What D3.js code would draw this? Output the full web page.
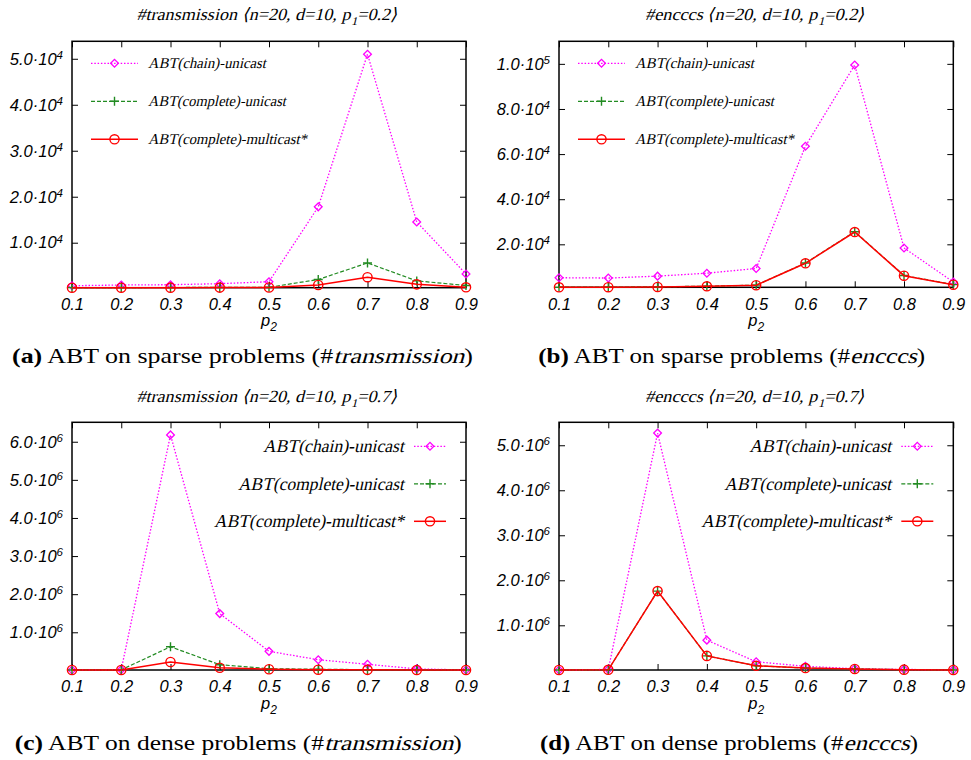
<!DOCTYPE html>
<html>
<head>
<meta charset="utf-8">
<script src="https://cdn.jsdelivr.net/npm/d3@7"></script>
<style>
body { margin: 0; background: #fff; }
</style>
</head>
<body>
<div id="chart"></div>
<script>
// x values shared by all panels
var p2 = [0.1, 0.2, 0.3, 0.4, 0.5, 0.6, 0.7, 0.8, 0.9];
var seriesNames = ["ABT(chain)-unicast", "ABT(complete)-unicast", "ABT(complete)-multicast*"];

// (a) sparse, #transmission
var aChain = [650, 800, 870, 1090, 1520, 17800, 51000, 14500, 3200];
var aCompUni = [250, 250, 260, 280, 300, 2000, 5600, 1700, 700];
var aMulti = [220, 220, 230, 240, 260, 800, 2500, 950, 300];
var aTicks = [1e4, 2e4, 3e4, 4e4, 5e4];
var aDomain = [217, 53800];

// (b) sparse, #encccs
var bChain = [5200, 5050, 5900, 7200, 9300, 63500, 99500, 18400, 3300];
var bCompUni = [1000, 1050, 1150, 1450, 1900, 11700, 25600, 6200, 2150];
var bMulti = [950, 1000, 1100, 1400, 1850, 11600, 25450, 6100, 2100];
var bTicks = [2e4, 4e4, 6e4, 8e4, 1e5];
var bDomain = [950, 110000];

// (c) dense, #transmission
var cChain = [10500, 20000, 6180000, 1490000, 500000, 280000, 160000, 40000, 12000];
var cCompUni = [10500, 15000, 620000, 150000, 45000, 30000, 20000, 15000, 10500];
var cMulti = [10500, 12000, 220000, 70000, 30000, 18000, 15000, 12000, 10500];
var cTicks = [1e6, 2e6, 3e6, 4e6, 5e6, 6e6];
var cDomain = [10500, 6510000];

// (d) dense, #encccs
var dChain = [7000, 20000, 5270000, 670000, 190000, 90000, 35000, 20000, 10000];
var dCompUni = [7000, 12000, 1760000, 320000, 100000, 50000, 30000, 15000, 8000];
var dMulti = [7000, 12000, 1760000, 320000, 100000, 50000, 30000, 15000, 8000];
var dTicks = [1e6, 2e6, 3e6, 4e6, 5e6];
var dDomain = [7000, 5510000];

var titleNames = ["#transmission", "#encccs", "#transmission", "#encccs"];
var titleP1 = ["0.2", "0.2", "0.7", "0.7"];
var captionLetters = ["(a)", "(b)", "(c)", "(d)"];
var captionKinds = ["sparse", "sparse", "dense", "dense"];
var captionMetrics = ["transmission", "encccs", "transmission", "encccs"];

var width = 971,
    height = 760;

var svg = d3.select("#chart").append("svg")
    .attr("width", width)
    .attr("height", height);

var colors = ["#ff00ff", "#228b22", "#ff0000"];
var dashes = ["1.5,1.8", "4,2", null];
var lineWidths = [1.3, 1.2, 1.5];
var serif = "'Liberation Serif', 'Times New Roman', serif";
var sans = "'Liberation Sans', Arial, sans-serif";

var panels = [
    {series: [aChain, aCompUni, aMulti], ticks: aTicks, domain: aDomain,
     box: [72, 41.3, 466, 287.7], legend: "left", legendSize: 15, legendW: [118, 138, 159],
     titleX: 267, titleY: 20, titleW: 261, capX: 242.5, capY: 363, capW: 461},
    {series: [bChain, bCompUni, bMulti], ticks: bTicks, domain: bDomain,
     box: [559, 41.3, 953.3, 287.3], legend: "left", legendSize: 15, legendW: [119, 139, 159],
     titleX: 755, titleY: 20, titleW: 220, capX: 731.7, capY: 363, capW: 387},
    {series: [cChain, cCompUni, cMulti], ticks: cTicks, domain: cDomain,
     box: [72, 422.3, 466, 670], legend: "right", legendSize: 18, legendW: [141, 166, 190],
     titleX: 267, titleY: 402, titleW: 261, capX: 238.3, capY: 750, capW: 447},
    {series: [dChain, dCompUni, dMulti], ticks: dTicks, domain: dDomain,
     box: [559, 422.3, 953.3, 670], legend: "right", legendSize: 18, legendW: [142, 167, 190],
     titleX: 755, titleY: 402, titleW: 220, capX: 729, capY: 750, capW: 378}
];

// text made of runs; italics are faked with a skew, whole run is fitted to a width
function richText(g, parts, x, y, anchor, size, targetW) {
    var runs = parts.map(function(p) {
        var fs = p.sub ? size * 0.7 : size;
        var t = g.append("text")
            .attr("x", 0).attr("y", 0)
            .style("font-family", serif)
            .style("font-size", fs + "px")
            .style("font-weight", p.bold ? "bold" : "normal")
            .style("white-space", "pre")
            .text(p.text);
        return {t: t, w: t.node().getComputedTextLength(), p: p};
    });
    var natural = d3.sum(runs, function(r) { return r.w; });
    var s = targetW ? targetW / natural : 1;
    var cx = anchor === "middle" ? x - natural * s / 2 : (anchor === "end" ? x - natural * s : x);
    runs.forEach(function(r) {
        var dy = r.p.sub ? size * 0.28 : 0;
        r.t.attr("transform", "translate(" + cx + "," + (y + dy) + ") scale(" + s + ",1)" +
            (r.p.italic ? " skewX(-13)" : ""));
        cx += r.w * s;
    });
}

function tickParts(v) {
    var e = Math.floor(Math.log10(v) + 1e-9);
    var m = v / Math.pow(10, e);
    return [m.toFixed(1) + "\u00b710", String(e)];
}

function marker(g, k, x, y) {
    if (k === 0) {
        g.append("path")
            .attr("d", d3.symbol(d3.symbolSquare, 30)())
            .attr("transform", "translate(" + x + "," + y + ") rotate(45)")
            .attr("fill", "none").attr("stroke", colors[0]).attr("stroke-width", 1.3);
    } else if (k === 1) {
        g.append("path")
            .attr("d", "M-4.5,0H4.5M0,-4.5V4.5")
            .attr("transform", "translate(" + x + "," + y + ")")
            .attr("fill", "none").attr("stroke", colors[1]).attr("stroke-width", 1.4);
    } else {
        g.append("circle")
            .attr("cx", x).attr("cy", y).attr("r", 4.6)
            .attr("fill", "none").attr("stroke", colors[2]).attr("stroke-width", 1.4);
    }
}

panels.forEach(function(p, idx) {
    var g = svg.append("g");
    var x0 = p.box[0], y0 = p.box[1], x1 = p.box[2], y1 = p.box[3];

    var xScale = d3.scaleLinear().domain([0.1, 0.9]).range([x0, x1]);
    var yScale = d3.scaleLinear().domain(p.domain).range([y1, y0]);

    // title
    richText(g, [
        {text: titleNames[idx] + " \u27e8n=20, d=10, p", italic: true},
        {text: "1", italic: true, sub: true},
        {text: "=" + titleP1[idx] + "\u27e9", italic: true}
    ], p.titleX, p.titleY, "middle", 17, p.titleW);

    // axes, ticks point inward like gnuplot
    var left = g.append("g").attr("transform", "translate(" + x0 + ",0)")
        .call(d3.axisLeft(yScale).tickValues(p.ticks).tickSize(-6).tickPadding(9));
    var right = g.append("g").attr("transform", "translate(" + x1 + ",0)")
        .call(d3.axisRight(yScale).tickValues(p.ticks).tickSize(-6).tickFormat(""));
    var bottom = g.append("g").attr("transform", "translate(0," + y1 + ")")
        .call(d3.axisBottom(xScale).tickValues(p2).tickSize(-6).tickPadding(10.5).tickFormat(d3.format(".1f")));
    var top = g.append("g").attr("transform", "translate(0," + y0 + ")")
        .call(d3.axisTop(xScale).tickValues(p2).tickSize(-6).tickFormat(""));

    [left, right, bottom, top].forEach(function(a) {
        a.select(".domain").remove();
        a.selectAll(".tick line").attr("stroke", "#000").attr("stroke-width", 1);
    });

    left.selectAll(".tick text").each(function(d) {
        var parts = tickParts(d);
        var el = d3.select(this).text(null)
            .style("font-family", sans)
            .style("font-style", "italic")
            .style("font-size", "16.5px")
            .attr("fill", "#000")
            .attr("dy", "0.32em");
        el.append("tspan").text(parts[0]);
        el.append("tspan").attr("dy", "-0.5em").style("font-size", "11.5px").text(parts[1]);
    });

    bottom.selectAll(".tick text")
        .style("font-family", sans)
        .style("font-style", "italic")
        .style("font-size", "16.5px")
        .attr("fill", "#000");

    // x label p2
    var xl = g.append("text")
        .attr("x", (x0 + x1) / 2).attr("y", y1 + 38.5)
        .attr("text-anchor", "middle")
        .style("font-family", sans)
        .style("font-style", "italic")
        .style("font-size", "16.5px");
    xl.append("tspan").text("p");
    xl.append("tspan").attr("dy", 5).style("font-size", "12px").text("2");

    // frame
    g.append("rect")
        .attr("x", x0).attr("y", y0)
        .attr("width", x1 - x0).attr("height", y1 - y0)
        .attr("fill", "none").attr("stroke", "#000").attr("stroke-width", 1.5);

    // series
    var line = d3.line()
        .x(function(d, i) { return xScale(p2[i]); })
        .y(function(d) { return yScale(d); });

    p.series.forEach(function(vals, k) {
        g.append("path")
            .datum(vals)
            .attr("d", line)
            .attr("fill", "none")
            .attr("stroke", colors[k])
            .attr("stroke-width", lineWidths[k])
            .attr("stroke-dasharray", dashes[k]);
        vals.forEach(function(v, i) {
            marker(g, k, xScale(p2[i]), yScale(v));
        });
    });

    // legend
    seriesNames.forEach(function(name, k) {
        var lx0, lx1, tx, ty, anchor;
        if (p.legend === "left") {
            lx0 = x0 + 19; lx1 = x0 + 66; tx = x0 + 76;
            ty = y0 + 22 + k * 38; anchor = "start";
        } else {
            lx0 = x1 - 52; lx1 = x1 - 20; tx = x1 - 62;
            ty = y0 + 24 + k * 37.5; anchor = "end";
        }
        g.append("line")
            .attr("x1", lx0).attr("x2", lx1).attr("y1", ty).attr("y2", ty)
            .attr("stroke", colors[k])
            .attr("stroke-width", lineWidths[k])
            .attr("stroke-dasharray", dashes[k]);
        marker(g, k, (lx0 + lx1) / 2, ty);
        richText(g, [{text: name, italic: true}], tx, ty + p.legendSize * 0.33, anchor,
            p.legendSize, p.legendW[k]);
    });

    // caption
    richText(g, [
        {text: captionLetters[idx], bold: true},
        {text: " ABT on " + captionKinds[idx] + " problems (#"},
        {text: captionMetrics[idx], italic: true},
        {text: ")"}
    ], p.capX, p.capY, "middle", 21, p.capW);
});
</script>
</body>
</html>
